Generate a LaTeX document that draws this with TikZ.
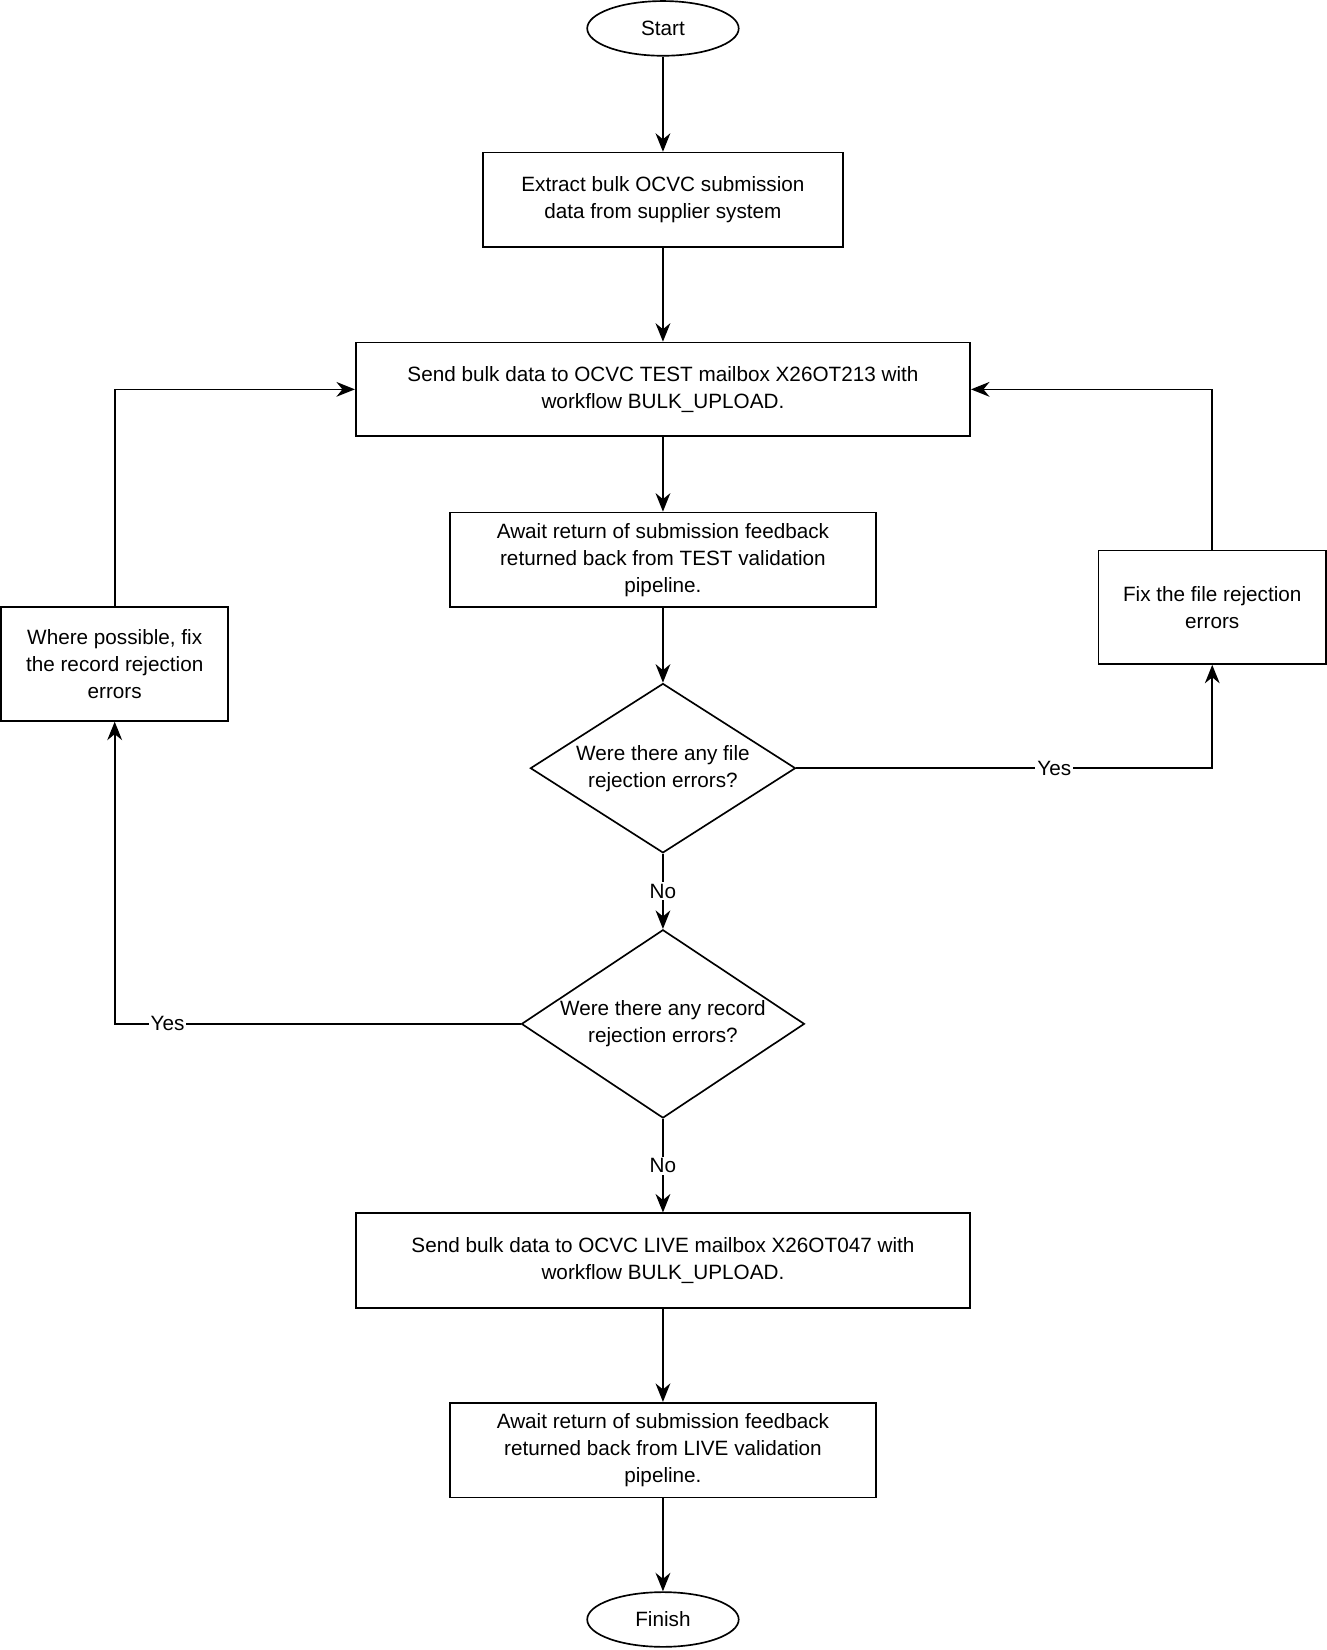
\documentclass[tikz,border=0pt]{standalone}
\usepackage{fontspec}
\setmainfont{Liberation Sans}
\usetikzlibrary{shapes.geometric,arrows.meta}
\begin{document}
\begin{tikzpicture}[x=0.02cm,y=-0.02cm,
  every node/.style={font=\fontsize{11.2}{14.6}\selectfont},
  box/.style={draw,line width=0.9pt,rectangle,align=center,inner sep=0pt},
  term/.style={draw,line width=0.9pt,ellipse,minimum width=2.88cm,minimum height=1.04cm,inner sep=0pt},
  dia/.style={draw,line width=0.9pt,diamond,inner sep=0pt},
  arr/.style={line width=0.9pt,-{Stealth[length=10pt,width=8pt]}},
  lab/.style={fill=white,inner sep=1pt}]
\useasboundingbox (0,0) rectangle (1261,1568);
\node[term] (start) at (630,27) {Start};
\node[box,minimum width=6.84cm,minimum height=1.8cm] (b1) at (630,190) {Extract bulk OCVC submission\\data from supplier system};
\node[box,minimum width=11.68cm,minimum height=1.78cm] (b2) at (630,370) {Send bulk data to OCVC TEST mailbox X26OT213 with\\workflow BULK\_UPLOAD.};
\node[box,minimum width=8.1cm,minimum height=1.8cm] (b3) at (630,532) {Await return of submission feedback\\returned back from TEST validation\\pipeline.};
\node[dia,minimum width=5.04cm,minimum height=3.22cm] (d1) at (630,730) {};
\node at (d1.center) {\begin{tabular}{@{}c@{}}Were there any file\\rejection errors?\end{tabular}};
\node[dia,minimum width=5.38cm,minimum height=3.58cm] (d2) at (630,973) {};
\node at (d2.center) {\begin{tabular}{@{}c@{}}Were there any record\\rejection errors?\end{tabular}};
\node[box,minimum width=4.32cm,minimum height=2.16cm] (fl) at (109,631) {Where possible, fix\\the record rejection\\errors};
\node[box,minimum width=4.32cm,minimum height=2.16cm] (fr) at (1152,577) {Fix the file rejection\\errors};
\node[box,minimum width=11.68cm,minimum height=1.8cm] (b4) at (630,1198) {Send bulk data to OCVC LIVE mailbox X26OT047 with\\workflow BULK\_UPLOAD.};
\node[box,minimum width=8.1cm,minimum height=1.8cm] (b5) at (630,1378) {Await return of submission feedback\\returned back from LIVE validation\\pipeline.};
\node[term] (fin) at (630,1539) {Finish};
\draw[arr] (start) -- (b1);
\draw[arr] (b1) -- (b2);
\draw[arr] (b2) -- (b3);
\draw[arr] (b3) -- (d1);
\draw[arr] (d1) -- node[lab]{No} (d2);
\draw[arr] (d2) -- node[lab]{No} (b4);
\draw[arr] (b4) -- (b5);
\draw[arr] (b5) -- (fin);
\draw[arr] (d1.east) -- node[lab,pos=0.62]{Yes} (fr.south |- d1.east) -- (fr.south);
\draw[arr] (fr.north) |- (b2.east);
\draw[arr] (d2.west) -- node[lab,pos=0.87]{Yes} (fl.south |- d2.west) -- (fl.south);
\draw[arr] (fl.north) |- (b2.west);
\end{tikzpicture}
\end{document}
